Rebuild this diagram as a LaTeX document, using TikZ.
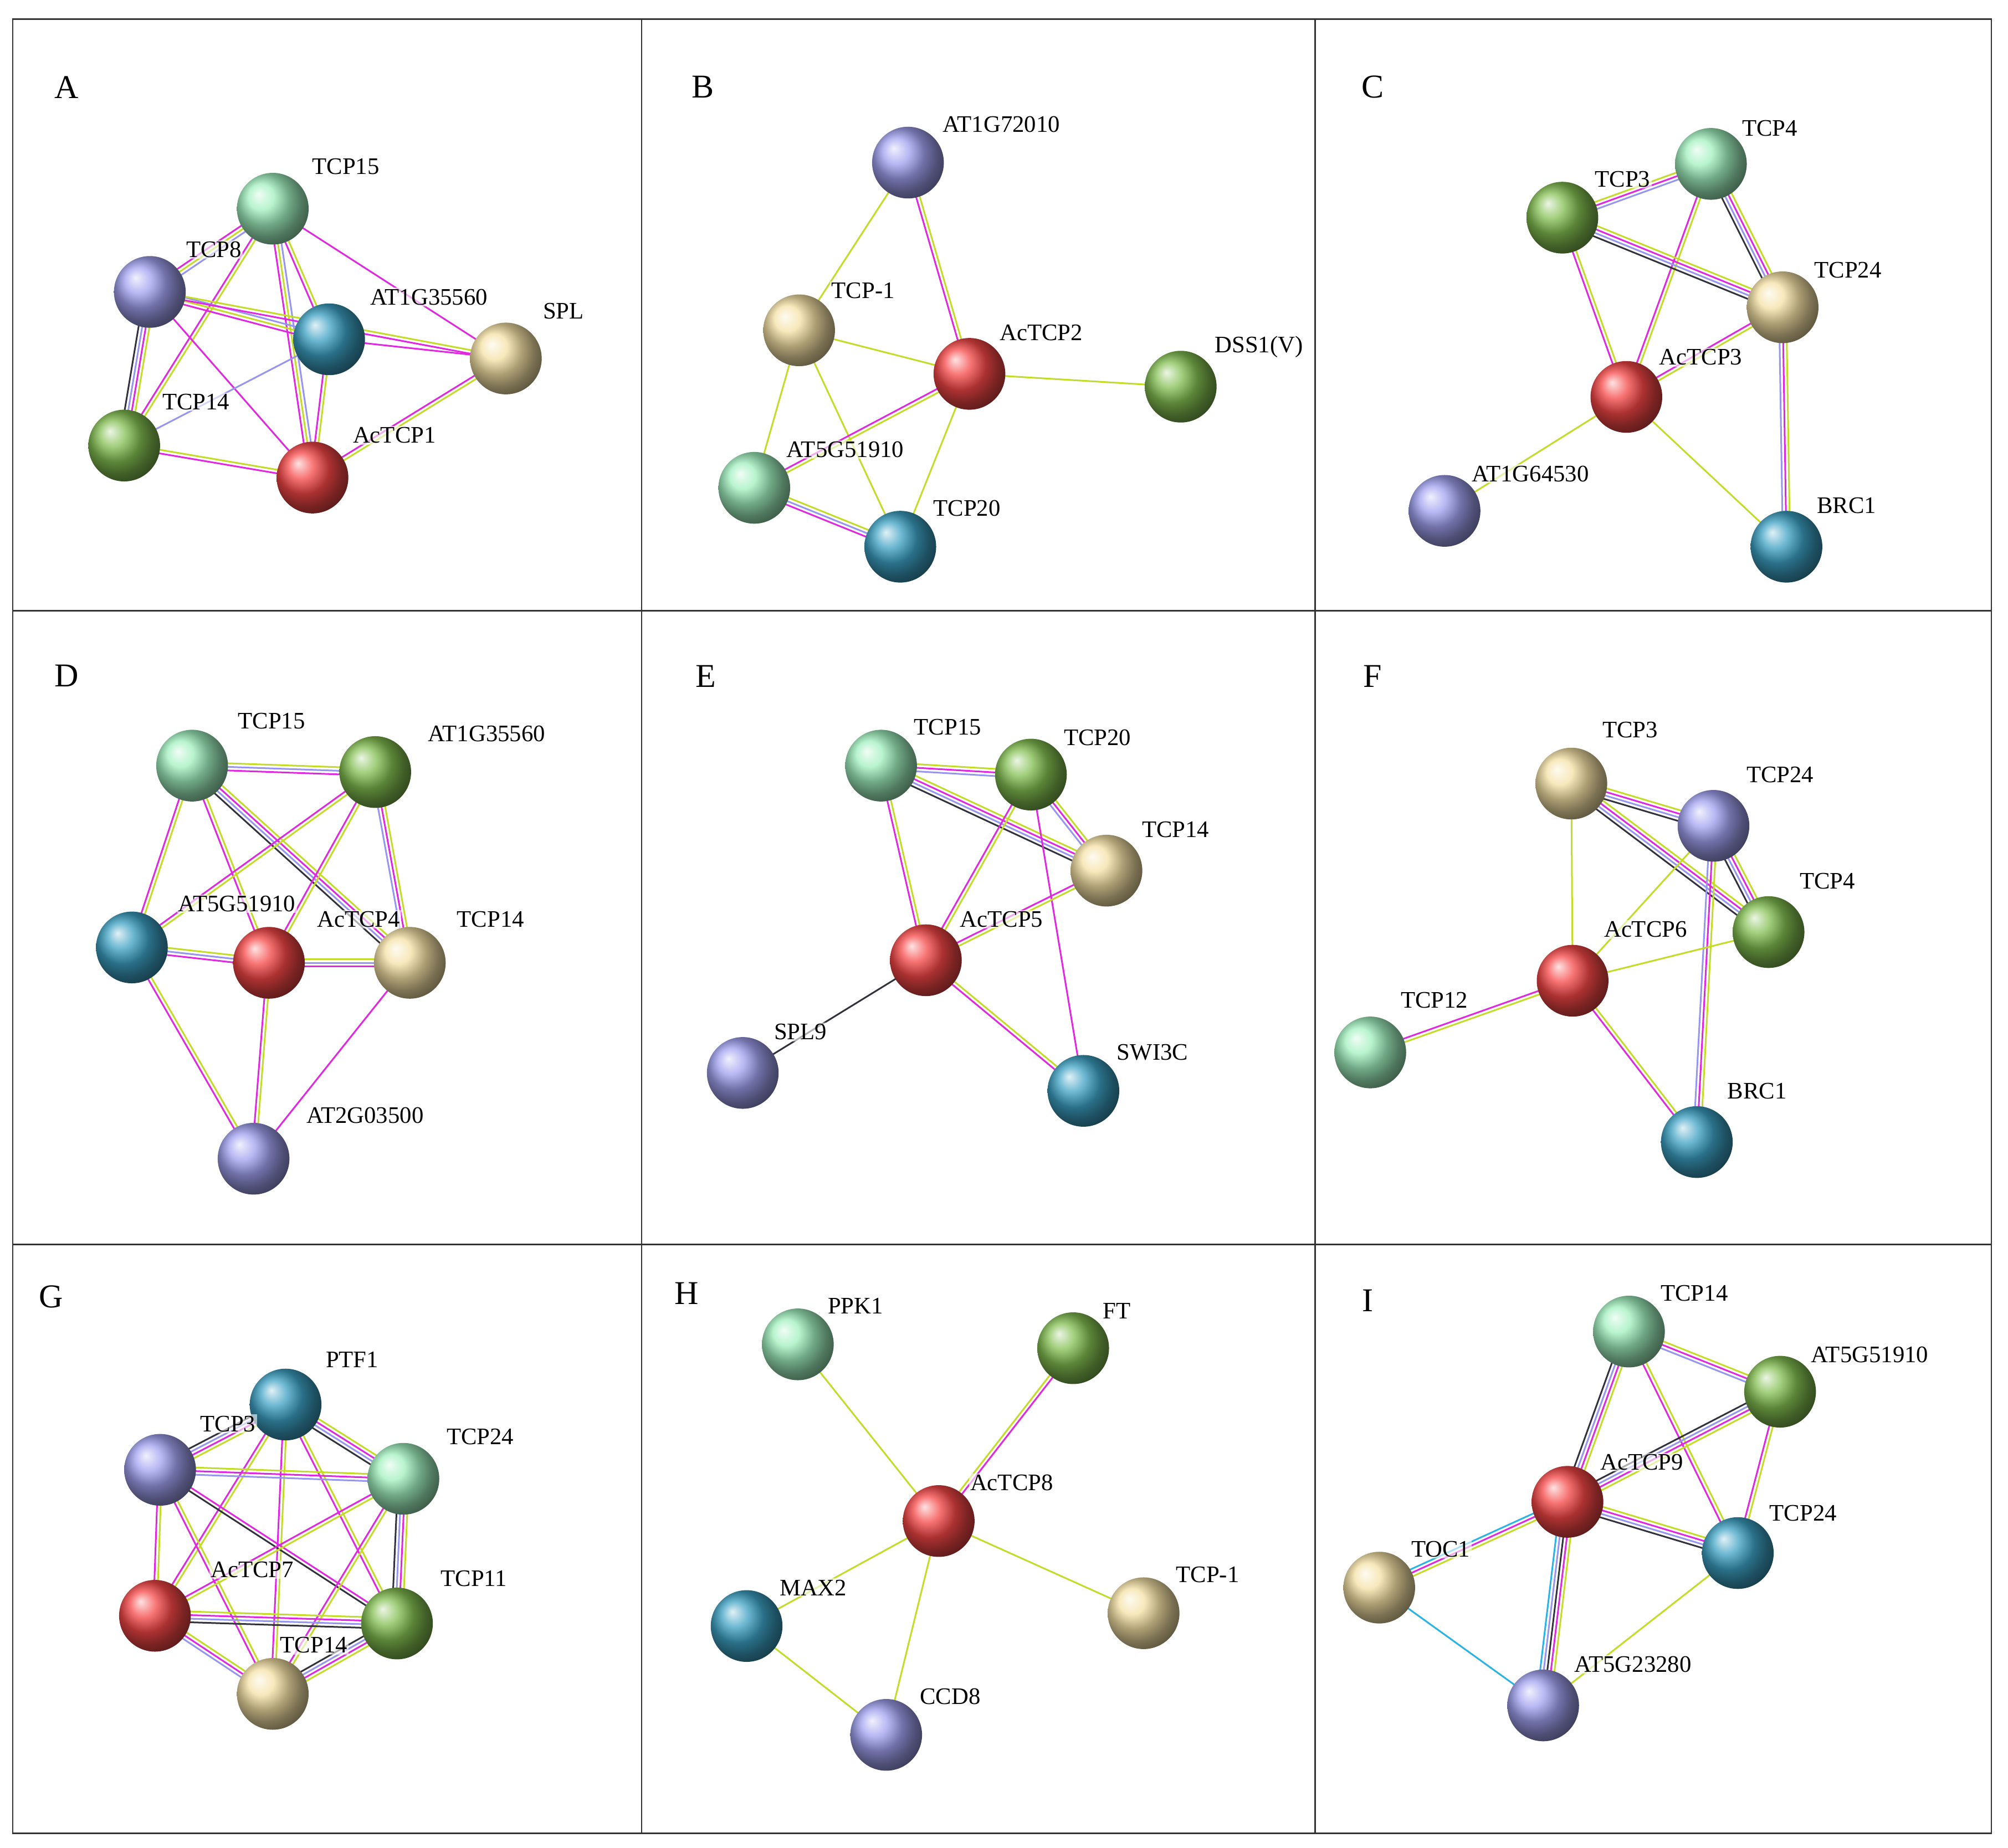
\documentclass[tikz,border=0pt]{standalone}
\usepackage{fontspec}
\setmainfont{Liberation Serif}
\usetikzlibrary{calc}
\definecolor{m}{RGB}{225,40,225}
\definecolor{y}{RGB}{195,220,40}
\definecolor{k}{RGB}{50,50,60}
\definecolor{b}{RGB}{150,150,240}
\definecolor{c}{RGB}{40,180,230}
\definecolor{bred}{RGB}{245,70,70}
\definecolor{bgreen}{RGB}{130,190,80}
\definecolor{bpurple}{RGB}{160,160,240}
\definecolor{bteal}{RGB}{60,160,195}
\definecolor{btan}{RGB}{245,225,165}
\definecolor{bmint}{RGB}{160,240,190}
\newcommand\E[4]{\foreach \cc [count=\ii] in {#4}{\pgfmathsetmacro\oo{(\ii-(#1+1)/2)*2.8}\draw[color=\cc,line width=1.3pt] ($(#2)!\oo pt!90:(#3)$) -- ($(#3)!\oo pt!-90:(#2)$);}}
\tikzset{ball/.style={circle,minimum size=56pt,inner sep=0pt,shading=ball,ball color=#1},
 lab/.style={font=\fontsize{18.5}{20}\selectfont,inner sep=1pt,fill=white,fill opacity=0.6,text opacity=1},
 let/.style={font=\fontsize{26}{28}\selectfont},
 frame/.style={line width=1.2pt,black!80}}
\begin{document}
\begin{tikzpicture}[x=1pt,y=-1pt]
\useasboundingbox (0,0) rectangle (1568,1443);
\fill[white] (0,0) rectangle (1568,1443);
\draw[frame] (10,15) rectangle (1555,1432);
\draw[frame] (501,15) -- (501,1432) (1027,15) -- (1027,1432) (10,477) -- (1555,477) (10,972) -- (1555,972);
% ---------- A
\coordinate (A1) at (213,163);\coordinate (A2) at (117,228);\coordinate (A3) at (257,265);
\coordinate (A4) at (395,280);\coordinate (A5) at (97,348);\coordinate (A6) at (244,373);
\E3{A1}{A2}{m,y,b}\E2{A1}{A3}{m,y}\E1{A1}{A4}{m}\E2{A1}{A5}{m,y}\E3{A1}{A6}{m,y,b}
\E4{A2}{A5}{k,b,m,y}\E3{A2}{A3}{m,y,b}\E2{A2}{A4}{m,y}\E1{A2}{A6}{m}\E1{A3}{A4}{m}
\E2{A3}{A6}{m,y}\E1{A3}{A5}{b}\E2{A5}{A6}{m,y}\E2{A4}{A6}{m,y}
\node[ball=bmint] (nA1) at (A1) {};\node[ball=bpurple] (nA2) at (A2) {};\node[ball=bteal] (nA3) at (A3) {};
\node[ball=btan] (nA4) at (A4) {};\node[ball=bgreen] (nA5) at (A5) {};\node[ball=bred] (nA6) at (A6) {};
\node[let] (lA) at (52,68) {A};
\node[lab] (tA1) at (270,130) {TCP15};\node[lab] (tA2) at (167,195) {TCP8};\node[lab] (tA3) at (335,232) {AT1G35560};
\node[lab] (tA4) at (440,243) {SPL};\node[lab] (tA5) at (153,314) {TCP14};\node[lab] (tA6) at (308,340) {AcTCP1};
% ---------- B
\coordinate (B1) at (709,127);\coordinate (B2) at (624,258);\coordinate (B3) at (757,292);
\coordinate (B4) at (922,302);\coordinate (B5) at (589,381);\coordinate (B6) at (703,427);
\E1{B1}{B2}{y}\E2{B1}{B3}{m,y}\E1{B2}{B3}{y}\E1{B2}{B5}{y}\E1{B2}{B6}{y}\E1{B3}{B4}{y}
\E2{B3}{B5}{m,y}\E1{B3}{B6}{y}\E3{B5}{B6}{m,b,y}
\node[ball=bpurple] (nB1) at (B1) {};\node[ball=btan] (nB2) at (B2) {};\node[ball=bred] (nB3) at (B3) {};
\node[ball=bgreen] (nB4) at (B4) {};\node[ball=bmint] (nB5) at (B5) {};\node[ball=bteal] (nB6) at (B6) {};
\node[let] (lB) at (549,68) {B};
\node[lab] (tB1) at (782,97) {AT1G72010};\node[lab] (tB2) at (674,227) {TCP-1};\node[lab] (tB3) at (813,260) {AcTCP2};
\node[lab] (tB4) at (983,271) {DSS1(V)};\node[lab] (tB5) at (660,351) {AT5G51910};\node[lab] (tB6) at (755,397) {TCP20};
% ---------- C
\coordinate (C1) at (1336,128);\coordinate (C2) at (1220,170);\coordinate (C3) at (1392,240);
\coordinate (C4) at (1270,310);\coordinate (C5) at (1128,399);\coordinate (C6) at (1395,427);
\E3{C2}{C1}{b,m,y}\E4{C1}{C3}{k,b,m,y}\E2{C1}{C4}{m,y}\E4{C2}{C3}{k,b,m,y}\E2{C2}{C4}{m,y}
\E2{C3}{C4}{m,y}\E3{C3}{C6}{b,m,y}\E1{C4}{C5}{y}\E1{C4}{C6}{y}
\node[ball=bmint] (nC1) at (C1) {};\node[ball=bgreen] (nC2) at (C2) {};\node[ball=btan] (nC3) at (C3) {};
\node[ball=bred] (nC4) at (C4) {};\node[ball=bpurple] (nC5) at (C5) {};\node[ball=bteal] (nC6) at (C6) {};
\node[let] (lC) at (1072,68) {C};
\node[lab] (tC1) at (1382,100) {TCP4};\node[lab] (tC2) at (1267,140) {TCP3};\node[lab] (tC3) at (1443,211) {TCP24};
\node[lab] (tC4) at (1328,279) {AcTCP3};\node[lab] (tC5) at (1195,370) {AT1G64530};\node[lab] (tC6) at (1442,395) {BRC1};
% ---------- D
\coordinate (D1) at (150,598);\coordinate (D2) at (293,603);\coordinate (D3) at (103,740);
\coordinate (D4) at (210,752);\coordinate (D5) at (320,752);\coordinate (D6) at (198,905);
\E3{D1}{D2}{m,b,y}\E2{D1}{D3}{m,y}\E2{D1}{D4}{m,y}\E4{D1}{D5}{k,b,m,y}\E2{D2}{D3}{m,y}
\E2{D2}{D4}{m,y}\E3{D2}{D5}{b,m,y}\E3{D3}{D4}{m,b,y}\E3{D4}{D5}{m,b,y}\E2{D3}{D6}{m,y}
\E2{D4}{D6}{m,y}\E1{D5}{D6}{m}
\node[ball=bmint] (nD1) at (D1) {};\node[ball=bgreen] (nD2) at (D2) {};\node[ball=bteal] (nD3) at (D3) {};
\node[ball=bred] (nD4) at (D4) {};\node[ball=btan] (nD5) at (D5) {};\node[ball=bpurple] (nD6) at (D6) {};
\node[let] (lD) at (52,528) {D};
\node[lab] (tD1) at (212,563) {TCP15};\node[lab] (tD2) at (380,573) {AT1G35560};\node[lab] (tD3) at (185,706) {AT5G51910};
\node[lab] (tD4) at (280,718) {AcTCP4};\node[lab] (tD5) at (383,718) {TCP14};\node[lab] (tD6) at (285,871) {AT2G03500};
% ---------- E
\coordinate (E1) at (688,598);\coordinate (E2) at (805,605);\coordinate (E3) at (864,680);
\coordinate (E4) at (723,750);\coordinate (E5) at (580,838);\coordinate (E6) at (846,852);
\E3{E1}{E2}{b,m,y}\E4{E1}{E3}{k,b,m,y}\E2{E1}{E4}{m,y}\E3{E2}{E3}{b,m,y}\E2{E2}{E4}{m,y}
\E1{E2}{E6}{m}\E2{E3}{E4}{m,y}\E1{E4}{E5}{k}\E2{E4}{E6}{m,y}
\node[ball=bmint] (nE1) at (E1) {};\node[ball=bgreen] (nE2) at (E2) {};\node[ball=btan] (nE3) at (E3) {};
\node[ball=bred] (nE4) at (E4) {};\node[ball=bpurple] (nE5) at (E5) {};\node[ball=bteal] (nE6) at (E6) {};
\node[let] (lE) at (551,528) {E};
\node[lab] (tE1) at (740,568) {TCP15};\node[lab] (tE2) at (857,576) {TCP20};\node[lab] (tE3) at (918,648) {TCP14};
\node[lab] (tE4) at (782,718) {AcTCP5};\node[lab] (tE5) at (625,806) {SPL9};\node[lab] (tE6) at (900,822) {SWI3C};
% ---------- F
\coordinate (F1) at (1227,612);\coordinate (F2) at (1338,645);\coordinate (F3) at (1381,728);
\coordinate (F4) at (1228,766);\coordinate (F5) at (1070,822);\coordinate (F6) at (1325,892);
\E4{F1}{F2}{k,b,m,y}\E4{F1}{F3}{k,b,m,y}\E1{F1}{F4}{y}\E3{F2}{F6}{b,m,y}\E4{F2}{F3}{k,b,m,y}
\E1{F2}{F4}{y}\E1{F3}{F4}{y}\E2{F4}{F5}{m,y}\E2{F4}{F6}{m,y}
\node[ball=btan] (nF1) at (F1) {};\node[ball=bpurple] (nF2) at (F2) {};\node[ball=bgreen] (nF3) at (F3) {};
\node[ball=bred] (nF4) at (F4) {};\node[ball=bmint] (nF5) at (F5) {};\node[ball=bteal] (nF6) at (F6) {};
\node[let] (lF) at (1072,528) {F};
\node[lab] (tF1) at (1273,570) {TCP3};\node[lab] (tF2) at (1390,605) {TCP24};\node[lab] (tF3) at (1427,688) {TCP4};
\node[lab] (tF4) at (1285,726) {AcTCP6};\node[lab] (tF5) at (1120,781) {TCP12};\node[lab] (tF6) at (1372,852) {BRC1};
% ---------- G
\coordinate (G1) at (223,1097);\coordinate (G2) at (125,1148);\coordinate (G3) at (315,1155);
\coordinate (G4) at (121,1262);\coordinate (G5) at (310,1268);\coordinate (G6) at (213,1323);
\E4{G1}{G2}{k,b,m,y}\E4{G1}{G3}{k,b,m,y}\E2{G1}{G4}{m,y}\E2{G1}{G5}{m,y}\E2{G1}{G6}{m,y}
\E3{G2}{G3}{b,m,y}\E2{G2}{G4}{m,y}\E2{G2}{G5}{k,m}\E2{G2}{G6}{m,y}\E2{G3}{G4}{m,y}
\E4{G3}{G5}{k,b,m,y}\E2{G3}{G6}{m,y}\E4{G4}{G5}{k,b,m,y}\E3{G4}{G6}{b,m,y}\E4{G5}{G6}{k,b,m,y}
\node[ball=bteal] (nG1) at (G1) {};\node[ball=bpurple] (nG2) at (G2) {};\node[ball=bmint] (nG3) at (G3) {};
\node[ball=bred] (nG4) at (G4) {};\node[ball=bgreen] (nG5) at (G5) {};\node[ball=btan] (nG6) at (G6) {};
\node[let] (lG) at (40,1013) {G};
\node[lab] (tG1) at (275,1062) {PTF1};\node[lab] (tG2) at (178,1112) {TCP3};\node[lab] (tG3) at (375,1122) {TCP24};
\node[lab] (tG4) at (197,1226) {AcTCP7};\node[lab] (tG5) at (370,1233) {TCP11};\node[lab] (tG6) at (245,1285) {TCP14};
% ---------- H
\coordinate (H1) at (623,1050);\coordinate (H2) at (838,1053);\coordinate (H3) at (733,1188);
\coordinate (H4) at (583,1270);\coordinate (H5) at (893,1260);\coordinate (H6) at (692,1355);
\E1{H3}{H1}{y}\E2{H3}{H2}{m,y}\E1{H3}{H4}{y}\E1{H3}{H5}{y}\E1{H3}{H6}{y}\E1{H4}{H6}{y}
\node[ball=bmint] (nH1) at (H1) {};\node[ball=bgreen] (nH2) at (H2) {};\node[ball=bred] (nH3) at (H3) {};
\node[ball=bteal] (nH4) at (H4) {};\node[ball=btan] (nH5) at (H5) {};\node[ball=bpurple] (nH6) at (H6) {};
\node[let] (lH) at (536,1010) {H};
\node[lab] (tH1) at (668,1020) {PPK1};\node[lab] (tH2) at (872,1024) {FT};\node[lab] (tH3) at (790,1158) {AcTCP8};
\node[lab] (tH4) at (635,1240) {MAX2};\node[lab] (tH5) at (943,1230) {TCP-1};\node[lab] (tH6) at (742,1325) {CCD8};
% ---------- I
\coordinate (I1) at (1272,1040);\coordinate (I2) at (1390,1087);\coordinate (I3) at (1224,1173);
\coordinate (I4) at (1357,1213);\coordinate (I5) at (1077,1240);\coordinate (I6) at (1205,1332);
\E3{I1}{I2}{b,m,y}\E4{I1}{I3}{k,b,m,y}\E2{I1}{I4}{m,y}\E4{I2}{I3}{k,b,m,y}\E2{I2}{I4}{m,y}
\E4{I3}{I4}{k,b,m,y}\E3{I3}{I5}{c,m,y}\E5{I3}{I6}{c,b,k,m,y}\E1{I5}{I6}{c}\E1{I4}{I6}{y}
\node[ball=bmint] (nI1) at (I1) {};\node[ball=bgreen] (nI2) at (I2) {};\node[ball=bred] (nI3) at (I3) {};
\node[ball=bteal] (nI4) at (I4) {};\node[ball=btan] (nI5) at (I5) {};\node[ball=bpurple] (nI6) at (I6) {};
\node[let] (lI) at (1068,1016) {I};
\node[lab] (tI1) at (1323,1010) {TCP14};\node[lab] (tI2) at (1460,1058) {AT5G51910};\node[lab] (tI3) at (1282,1142) {AcTCP9};
\node[lab] (tI4) at (1408,1182) {TCP24};\node[lab] (tI5) at (1125,1210) {TOC1};\node[lab] (tI6) at (1275,1300) {AT5G23280};
\end{tikzpicture}
\end{document}
